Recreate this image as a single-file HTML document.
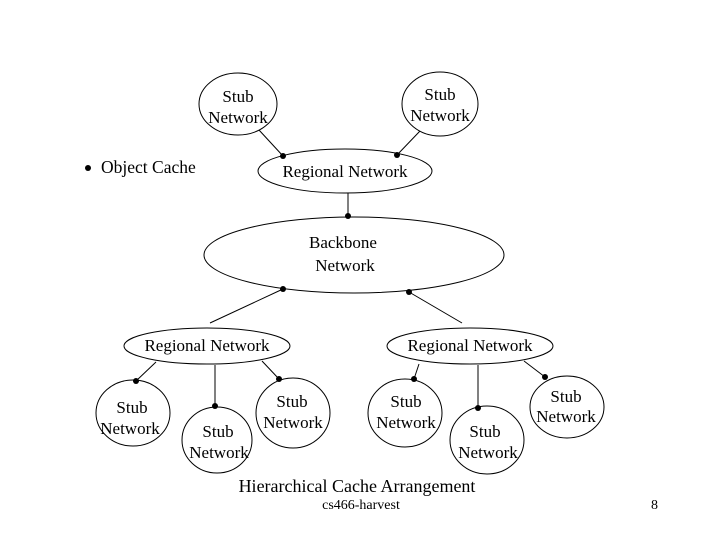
<!DOCTYPE html>
<html><head><style>body{margin:0;background:#fff}svg{display:block}</style></head>
<body>
<svg width="720" height="540" xmlns="http://www.w3.org/2000/svg" font-family="Liberation Serif, serif" font-size="17" fill="#000">
<g fill="none" stroke="#000" stroke-width="1">
<ellipse cx="238" cy="104" rx="39" ry="31"/>
<ellipse cx="440" cy="104" rx="38" ry="32"/>
<ellipse cx="345" cy="171" rx="87" ry="22"/>
<ellipse cx="354" cy="255" rx="150" ry="38"/>
<ellipse cx="207" cy="346" rx="83" ry="18"/>
<ellipse cx="470" cy="346" rx="83" ry="18"/>
<ellipse cx="133" cy="413" rx="37" ry="33"/>
<ellipse cx="217" cy="440" rx="35" ry="33"/>
<ellipse cx="293" cy="413" rx="37" ry="35"/>
<ellipse cx="405" cy="413" rx="37" ry="34"/>
<ellipse cx="487" cy="440" rx="37" ry="34"/>
<ellipse cx="567" cy="407" rx="37" ry="31"/>
<line x1="259" y1="130" x2="283" y2="156"/>
<line x1="420" y1="131" x2="397" y2="155"/>
<line x1="348" y1="193" x2="348" y2="216"/>
<line x1="283" y1="289" x2="210" y2="323"/>
<line x1="409" y1="292" x2="462" y2="323"/>
<line x1="156" y1="362" x2="136" y2="381"/>
<line x1="215" y1="365" x2="215" y2="406"/>
<line x1="262" y1="361" x2="279" y2="379"/>
<line x1="419" y1="364" x2="414" y2="379"/>
<line x1="478" y1="365" x2="478" y2="408"/>
<line x1="524" y1="361" x2="545" y2="377"/>
</g>
<g>
<circle cx="88" cy="168" r="3"/>
<circle cx="283" cy="156" r="3"/><circle cx="397" cy="155" r="3"/>
<circle cx="348" cy="216" r="3"/>
<circle cx="283" cy="289" r="3"/><circle cx="409" cy="292" r="3"/>
<circle cx="136" cy="381" r="3"/><circle cx="215" cy="406" r="3"/><circle cx="279" cy="379" r="3"/>
<circle cx="414" cy="379" r="3"/><circle cx="478" cy="408" r="3"/><circle cx="545" cy="377" r="3"/>
</g>
<g text-anchor="middle">
<text x="238" y="102">Stub</text><text x="238" y="123">Network</text>
<text x="440" y="100">Stub</text><text x="440" y="121">Network</text>
<text x="345" y="177">Regional Network</text>
<text x="343" y="248">Backbone</text><text x="345" y="271">Network</text>
<text x="207" y="351">Regional Network</text>
<text x="470" y="351">Regional Network</text>
<text x="132" y="413">Stub</text><text x="130" y="434">Network</text>
<text x="218" y="437">Stub</text><text x="219" y="458">Network</text>
<text x="292" y="407">Stub</text><text x="293" y="428">Network</text>
<text x="406" y="407">Stub</text><text x="406" y="428">Network</text>
<text x="485" y="437">Stub</text><text x="488" y="458">Network</text>
<text x="566" y="402">Stub</text><text x="566" y="422">Network</text>
<text x="357" y="492" font-size="18">Hierarchical Cache Arrangement</text>
<text x="361" y="509" font-size="14">cs466-harvest</text>
</g>
<text x="101" y="173" font-size="17.5">Object Cache</text>
<text x="651" y="509" font-size="14">8</text>
</svg>
</body></html>
